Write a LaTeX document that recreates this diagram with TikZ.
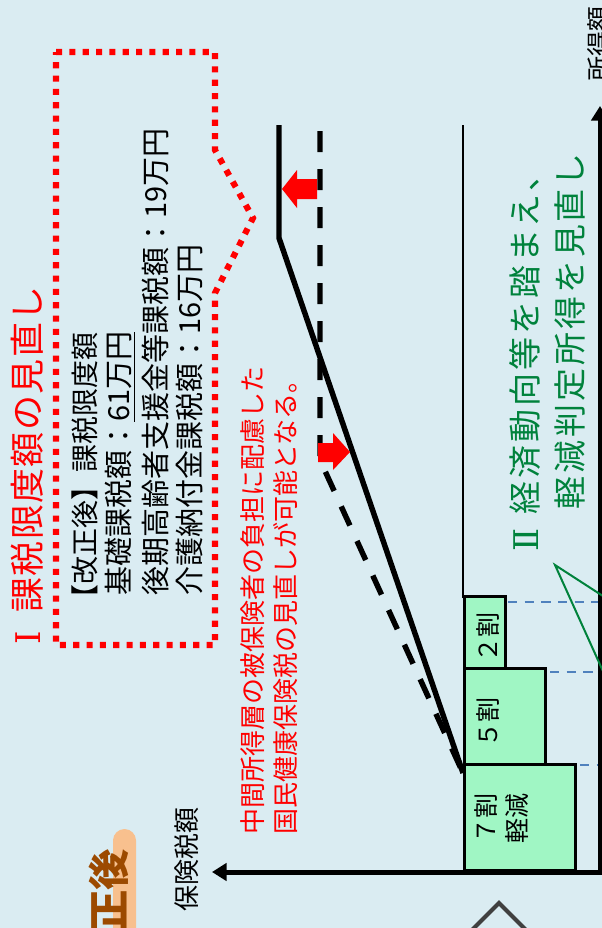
\documentclass[tikz,border=0pt]{standalone}
\usepackage{fontspec}
\setmainfont{Noto Sans CJK JP}
\newfontfamily\ttlfont[LetterSpace=4]{Noto Sans CJK JP}
\newfontfamily\grnfont[LetterSpace=9]{Noto Sans CJK JP}
\newfontfamily\romfont{DejaVu Serif}
\usetikzlibrary{arrows.meta}
\definecolor{bg}{RGB}{218,236,242}
\definecolor{mint}{RGB}{160,246,196}
\definecolor{peach}{RGB}{248,192,142}
\definecolor{tagbrown}{RGB}{156,74,0}
\definecolor{grn}{RGB}{0,130,60}
\definecolor{dblue}{RGB}{79,129,189}
\definecolor{chev}{RGB}{64,64,64}
\tikzset{
  vtext/.style={rotate=90,inner sep=0pt,anchor=west},
  ctext/.style={rotate=90,inner sep=0pt},
  axisline/.style={line width=3.75pt,-{Triangle[length=11pt,width=13pt]}},
  mintbox/.style={draw=black,fill=mint,line width=2.6pt,inner sep=0pt,anchor=south west},
  blvl/.style={draw=dblue,line width=1.6pt,dash pattern=on 7pt off 5.5pt},
  redbox/.style={draw=red,line width=4.6pt,dash pattern=on 4.6pt off 5.4pt},
  thickln/.style={line width=4.1pt},
  dashln/.style={line width=4.1pt,dash pattern=on 15.75pt off 12.75pt},
}
\begin{document}
\begin{tikzpicture}[x=0.75pt,y=-0.75pt]
\useasboundingbox (0,0) rectangle (602,928);
\fill[bg] (0,0) rectangle (602,928);
\clip (0,0) rectangle (602,928);

% tag at bottom left
\fill[peach,rounded corners=8.6pt] (113,829) rectangle (136,980);
\node[rotate=90,inner sep=0pt,anchor=east,text=tagbrown,font=\fontsize{31pt}{31pt}\selectfont\bfseries] (tag) at (109,849) {正後};

% red dotted box
\draw[redbox] (56,52) -- (215,52) -- (215,150) -- (253,218) -- (215,293) -- (215,645) -- (56,645) -- cycle;

% title
\node[ctext,text=red,font=\fontsize{25.5pt}{25.5pt}\romfont] (tnum) at (28,638) {Ⅰ};
\node[vtext,text=red,font=\fontsize{26.25pt}{26.25pt}\ttlfont] (title) at (27,613) {課税限度額の見直し};

% box text
\node[vtext,font=\fontsize{21pt}{21pt}\selectfont] (l1) at (85,613) {【改正後】課税限度額};
\node[vtext,font=\fontsize{21.75pt}{21.75pt}\selectfont] (l2) at (120,596) {基礎課税額：\underline{61万円}};
\node[vtext,font=\fontsize{21.75pt}{21.75pt}\selectfont] (l3) at (155,596) {後期高齢者支援金等課税額：19万円};
\node[vtext,font=\fontsize{21.75pt}{21.75pt}\selectfont] (l4) at (189,596) {介護納付金課税額：16万円};

% red explanation
\node[vtext,text=red,font=\fontsize{19.5pt}{19.5pt}\selectfont] (r1) at (253,835) {中間所得層の被保険者の負担に配慮した};
\node[vtext,text=red,font=\fontsize{19.5pt}{19.5pt}\selectfont] (r2) at (286,835) {国民健康保険税の見直しが可能となる。};

% green text
\node[ctext,text=grn,font=\fontsize{25.5pt}{25.5pt}\romfont] (gnum) at (526,540) {Ⅱ};
\node[vtext,text=grn,font=\fontsize{24.75pt}{24.75pt}\grnfont] (g1) at (525,515) {経済動向等を踏まえ、};
\node[vtext,text=grn,font=\fontsize{24.75pt}{24.75pt}\grnfont] (g2) at (570,510) {軽減判定所得を見直し};

% axes
\coordinate (O) at (600,872);
\coordinate (ytip) at (600,106);
\coordinate (xtip) at (212,872);
\draw[axisline] (600,874.5) -- (ytip);
\draw[axisline] (602,872) -- (xtip);
\node[vtext,font=\fontsize{18.75pt}{18.75pt}\selectfont] (ylab) at (599,82) {所得額};
\node[vtext,font=\fontsize{19.5pt}{19.5pt}\selectfont] (xlab) at (187,912) {保険税額};

% thin vertical line
\coordinate (tl1) at (463,125);
\coordinate (tl2) at (463,598);
\draw[line width=1.2pt] (tl1) -- (tl2);

% boxes
\node[mintbox,minimum width=83.25pt,minimum height=79.5pt] (b7) at (463,872) {};
\node[mintbox,minimum width=60.75pt,minimum height=72pt] (b5) at (463,766) {};
\node[mintbox,minimum width=30.75pt,minimum height=54pt] (b2) at (463,670) {};
\node[ctext,font=\fontsize{18.75pt}{18.75pt}\selectfont] (t2) at (488,637) {２割};
\node[ctext,font=\fontsize{18.75pt}{18.75pt}\selectfont] (t5) at (488,722) {５割};
\node[ctext,align=center,font=\fontsize{18.75pt}{23.25pt}\selectfont] (t7) at (502,818) {７割\\軽減};

% blue dashed levels
\draw[blvl] (508,602) -- (598,602);
\draw[blvl] (550,672) -- (598,672);
\draw[blvl] (580,765) -- (598,765);

% green callout pointer
\coordinate (cp) at (555,565);
\draw[grn,line width=1.5pt] (640,620) -- (cp) -- (616,700);

% thick lines
\coordinate (meet) at (463,773);
\draw[thickln] (279,125) -- (279,238) -- (meet);
\draw[dashln] (320,131) -- (320,460) -- (meet);

% red arrows
\fill[red] (282,189) -- (297,170) -- (297,179) -- (317,179) -- (317,199) -- (297,199) -- (297,208) -- cycle;
\fill[red] (350,452) -- (333,433) -- (333,443) -- (318,443) -- (318,462) -- (333,462) -- (333,470) -- cycle;

% chevron
\draw[chev,line width=3pt] (465,937) -- (499,903) -- (533,937);
\end{tikzpicture}
\end{document}
